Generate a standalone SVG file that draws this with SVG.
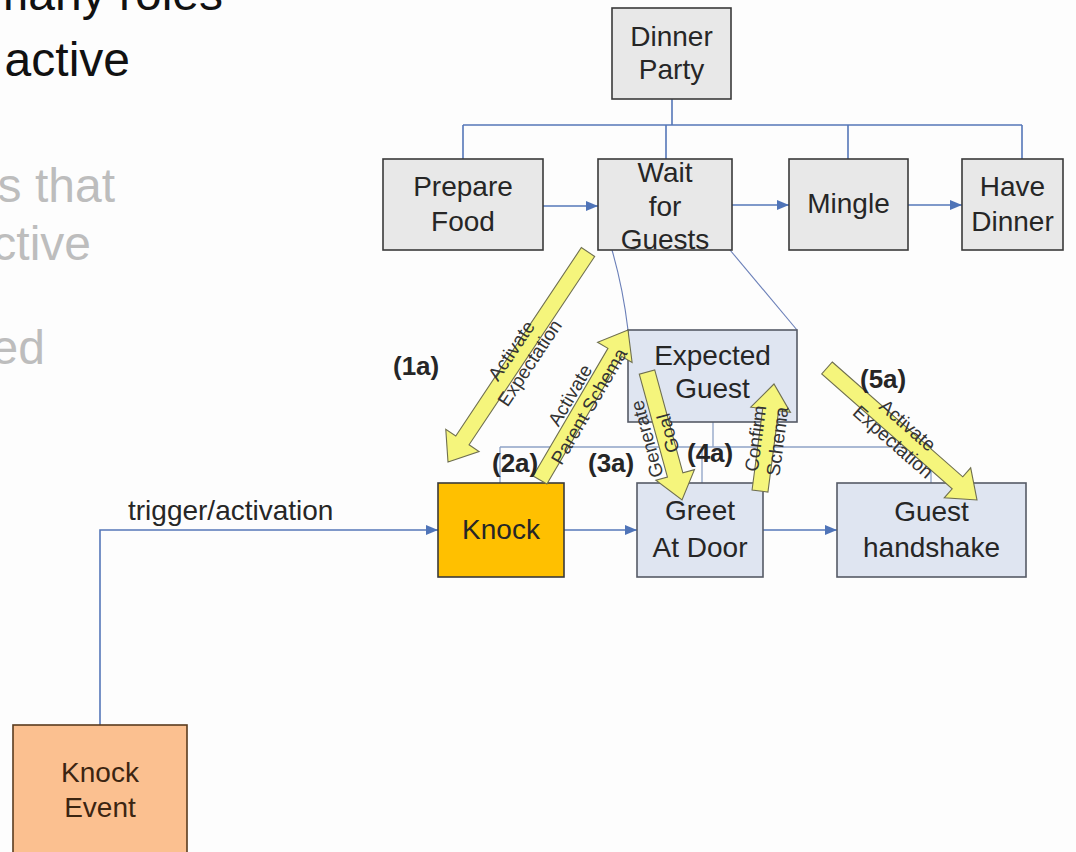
<svg xmlns="http://www.w3.org/2000/svg" width="1076" height="852" viewBox="0 0 1076 852">
  <defs>
    <marker id="tri" viewBox="0 0 12 10" refX="12" refY="5" markerWidth="12" markerHeight="10" markerUnits="userSpaceOnUse" orient="auto">
      <path d="M0,0 L12,5 L0,10 Z" fill="#4f74b8"/>
    </marker>
  </defs>
  <style>
    .slide { font-family: "Liberation Sans", Arial, sans-serif; font-size: 48px; }
    .dark { fill: #111111; }
    .grey { fill: #bdbdbd; }
    .box { stroke: #3a3a3a; stroke-width: 1.6; }
    .task { fill: #e8e8e8; }
    .sub { fill: #dfe5f1; stroke: #555a66; stroke-width: 1.6; }
    .knock { fill: #ffc000; }
    .event { fill: #fbc090; stroke: #5a3b1e; stroke-width: 1.6; }
    .lbl { font-family: "Liberation Sans", Arial, sans-serif; font-size: 28px; fill: #262626; text-anchor: middle; }
    .lbl-brown { fill: #3b2512; }
    .step { font-family: "Liberation Sans", Arial, sans-serif; font-size: 26px; font-weight: bold; fill: #262626; }
    .link { fill: none; stroke: #5577b8; stroke-width: 1.6; }
    .thin { fill: none; stroke: #6a7fb8; stroke-width: 1.1; }
    .bus2 { fill: none; stroke: #8ea2c6; stroke-width: 1.3; }
    .blk { fill: #f5f57c; stroke: #6f6f50; stroke-width: 1.1; }
    .alab { font-family: "Liberation Sans", Arial, sans-serif; font-size: 19px; fill: #333333; text-anchor: middle; }
  </style>

  <rect x="0" y="0" width="1076" height="852" fill="#fdfdfd"/>

  <!-- slide body text behind the diagram -->
  <g id="slide-text" class="slide">
    <text class="dark" x="223" y="10" text-anchor="end">many roles</text>
    <text class="dark" x="130" y="76" text-anchor="end">active</text>
    <text class="grey" x="115" y="202" text-anchor="end">s that</text>
    <text class="grey" x="91" y="260" text-anchor="end">ctive</text>
    <text class="grey" x="45" y="364" text-anchor="end">ed</text>
  </g>

  <!-- connectors -->
  <g id="connectors">
    <path class="link" d="M672,99 V125 M463,125 H1022 M463,125 V159 M666,125 V159 M848,125 V159 M1022,125 V159"/>
    <path class="link" d="M543,206 H598" marker-end="url(#tri)"/>
    <path class="link" d="M732,205 H789" marker-end="url(#tri)"/>
    <path class="link" d="M908,205 H962" marker-end="url(#tri)"/>
    <path class="thin" d="M612,250 Q623,288 628,330"/>
    <path class="thin" d="M730,250 L797,330"/>
    <path class="bus2" d="M713,422 V447 M500,447 H931 M500,447 V483 M702,447 V483 M931,447 V483"/>
    <path class="link" d="M564,530 H637" marker-end="url(#tri)"/>
    <path class="link" d="M763,530 H837" marker-end="url(#tri)"/>
    <path class="link" d="M100,725 V530 H438" marker-end="url(#tri)"/>
  </g>

  <text class="lbl" x="128" y="520" style="text-anchor:start" font-size="29">trigger/activation</text>

  <!-- nodes -->
  <g id="dinner-party">
    <rect class="box task" x="612" y="8" width="119" height="91"/>
    <text class="lbl" x="671.5" y="46">Dinner</text>
    <text class="lbl" x="671.5" y="79">Party</text>
  </g>
  <g id="prepare-food">
    <rect class="box task" x="383" y="159" width="160" height="91"/>
    <text class="lbl" x="463" y="196">Prepare</text>
    <text class="lbl" x="463" y="231">Food</text>
  </g>
  <g id="wait-for-guests">
    <rect class="box task" x="598" y="159" width="134" height="91"/>
    <text class="lbl" x="665" y="182">Wait</text>
    <text class="lbl" x="665" y="216">for</text>
    <text class="lbl" x="665" y="249">Guests</text>
  </g>
  <g id="mingle">
    <rect class="box task" x="789" y="159" width="119" height="91"/>
    <text class="lbl" x="848.5" y="213">Mingle</text>
  </g>
  <g id="have-dinner">
    <rect class="box task" x="962" y="159" width="101" height="91"/>
    <text class="lbl" x="1012.5" y="196">Have</text>
    <text class="lbl" x="1012.5" y="231">Dinner</text>
  </g>
  <g id="expected-guest">
    <rect class="sub" x="628" y="330" width="169" height="92"/>
    <text class="lbl" x="712.5" y="365">Expected</text>
    <text class="lbl" x="712.5" y="398">Guest</text>
  </g>
  <g id="knock">
    <rect class="box knock" x="438" y="483" width="126" height="94"/>
    <text class="lbl" x="501" y="539">Knock</text>
  </g>
  <g id="greet-at-door">
    <rect class="sub" x="637" y="483" width="126" height="94"/>
    <text class="lbl" x="700" y="520">Greet</text>
    <text class="lbl" x="700" y="557">At Door</text>
  </g>
  <g id="guest-handshake">
    <rect class="sub" x="837" y="483" width="189" height="94"/>
    <text class="lbl" x="931.5" y="521">Guest</text>
    <text class="lbl" x="931.5" y="557">handshake</text>
  </g>
  <g id="knock-event">
    <rect class="event" x="13" y="725" width="174" height="140"/>
    <text class="lbl lbl-brown" x="100" y="782">Knock</text>
    <text class="lbl lbl-brown" x="100" y="817">Event</text>
  </g>

  <!-- activation flow: block arrows, each drawn along +x from its tail -->
  <g id="flow-arrows">
    <path class="blk" transform="translate(588,252) rotate(123.69)" d="M0,-8 H226.4 V-20 L252.4,0 L226.4,20 V8 H0 Z"/>
    <path class="blk" transform="translate(540,480) rotate(-59.6)" d="M0,-8 H147.9 V-20 L173.9,0 L147.9,20 V8 H0 Z"/>
    <path class="blk" transform="translate(647,372) rotate(74.7)" d="M0,-8 H106.7 V-20 L132.7,0 L106.7,20 V8 H0 Z"/>
    <path class="blk" transform="translate(760,491) rotate(-82.55)" d="M0,-8 H81.9 V-20 L107.9,0 L81.9,20 V8 H0 Z"/>
    <path class="blk" transform="translate(827,368) rotate(41.35)" d="M0,-8 H173.8 V-20 L199.8,0 L173.8,20 V8 H0 Z"/>
  </g>
  <g id="flow-arrow-labels" class="alab">
    <g transform="translate(521,357) rotate(-56.3)"><text y="-5">Activate</text><text y="17">Expectation</text></g>
    <g transform="translate(580,401) rotate(-59.6)"><text y="-5">Activate</text><text y="17">Parent Schema</text></g>
    <g transform="translate(658,436) rotate(-105.3)"><text y="-5">Generate</text><text y="17">Goal</text></g>
    <g transform="translate(767,440) rotate(-82.5)"><text y="-5">Confirm</text><text y="17">Schema</text></g>
    <g transform="translate(900,434) rotate(41.3)"><text y="-5">Activate</text><text y="17">Expectation</text></g>
  </g>

  <!-- step markers -->
  <g id="steps" class="step">
    <text x="393" y="375">(1a)</text>
    <text x="492" y="472">(2a)</text>
    <text x="588" y="472">(3a)</text>
    <text x="687" y="462">(4a)</text>
    <text x="860" y="388">(5a)</text>
  </g>
</svg>
